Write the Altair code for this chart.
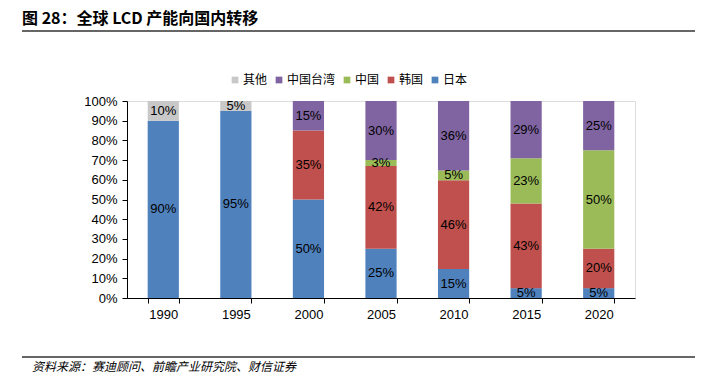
import altair as alt
import pandas as pd

years = ["1990", "1995", "2000", "2005", "2010", "2015", "2020"]
regions = ["日本", "韩国", "中国", "中国台湾", "其他"]
japan = [90, 95, 50, 25, 15, 5, 5]
korea = [0, 0, 35, 42, 46, 43, 20]
china = [0, 0, 0, 3, 5, 23, 50]
taiwan = [0, 0, 15, 30, 36, 29, 25]
other = [10, 5, 0, 0, 0, 0, 0]
colors = {"日本": "#4F81BD", "韩国": "#C0504D", "中国": "#9BBB59",
          "中国台湾": "#8064A2", "其他": "#C8C8C8"}
legend_order = ["其他", "中国台湾", "中国", "韩国", "日本"]
title_text = "图 28：全球 LCD 产能向国内转移"
source_text = "资料来源：赛迪顾问、前瞻产业研究院、财信证券"
y_ticks = [0, 0.1, 0.2, 0.3, 0.4, 0.5, 0.6, 0.7, 0.8, 0.9, 1.0]

series = [japan, korea, china, taiwan, other]
rows = []
for ri, (r, vals) in enumerate(zip(regions, series)):
    for y, v in zip(years, vals):
        if v > 0:
            rows.append({"year": y, "region": r, "value": v, "ord": ri,
                         "label": f"{v}%"})
df = pd.DataFrame(rows)

FONT = "Liberation Sans, Arial, Noto Sans CJK SC"

x_axis = alt.Axis(labelAngle=0, tickBand="extent", domainColor="#000",
                  tickColor="#000", labelColor="#000", labelFontSize=13,
                  labelFont=FONT, tickSize=5, labelPadding=5)
y_axis = alt.Axis(format=".0%", values=y_ticks, grid=False, domainColor="#000",
                  tickColor="#000", labelColor="#000", labelFontSize=13,
                  labelFont=FONT, tickSize=5, labelPadding=5, labelOverlap=False,
                  labelBound=False, labelFlush=False)
x_scale = alt.Scale(paddingInner=0.57, paddingOuter=0.285)
y_scale = alt.Scale(domain=[0, 1], nice=False)

base = alt.Chart(df)

bars = base.mark_bar().encode(
    x=alt.X("year:N", title=None, sort=years, scale=x_scale, axis=x_axis),
    y=alt.Y("value:Q", stack="normalize", title=None, scale=y_scale, axis=y_axis),
    color=alt.Color("region:N", sort=legend_order,
                    scale=alt.Scale(domain=legend_order,
                                    range=[colors[k] for k in legend_order]),
                    legend=alt.Legend(title=None, orient="none", direction="horizontal",
                                      legendX=102, legendY=-27, symbolType="square",
                                      symbolSize=45, symbolStrokeWidth=0,
                                      labelFontSize=12, labelFont=FONT,
                                      labelColor="#000", columnPadding=5,
                                      labelOffset=2)),
    order=alt.Order("ord:Q", sort="ascending"),
)

labels = base.transform_stack(
    stack="value", groupby=["year"], sort=[alt.SortField("ord", order="ascending")],
    as_=["y0", "y1"], offset="normalize"
).transform_calculate(
    mid="(datum.y0 + datum.y1) / 2"
).mark_text(fontSize=13, font=FONT, color="#000").encode(
    x=alt.X("year:N", title=None, sort=years, scale=x_scale, axis=x_axis),
    y=alt.Y("mid:Q", title=None, scale=y_scale, axis=y_axis),
    text="label:N",
)

title = alt.Chart(pd.DataFrame({"t": [title_text]})).mark_text(
    align="left", baseline="middle", fontSize=16, fontWeight="bold",
    font="Noto Sans CJK SC", color="#000"
).encode(x=alt.value(-105), y=alt.value(-82), text="t:N")

top_rule = alt.Chart(pd.DataFrame({"a": [0]})).mark_rule(
    color="#333", strokeWidth=1.5
).encode(x=alt.value(-105), x2=alt.value(570), y=alt.value(-70))

bottom_rule = alt.Chart(pd.DataFrame({"a": [0]})).mark_rule(
    color="#333", strokeWidth=1.5
).encode(x=alt.value(-105), x2=alt.value(570), y=alt.value(256))

source = alt.Chart(pd.DataFrame({"t": [source_text]})).mark_text(
    align="left", baseline="middle", fontSize=12, fontStyle="italic",
    font="Noto Sans CJK SC", color="#000"
).encode(x=alt.value(-95), y=alt.value(266), text="t:N")

chart = alt.layer(bars, labels, title, top_rule, bottom_rule, source).properties(
    width=508, height=197,
    autosize=alt.AutoSizeParams(type="none"),
    padding={"left": 119, "top": 93, "right": 60, "bottom": 74},
).configure_view(stroke=None).configure(background="white")

chart.save("out.html", embed_options={"renderer": "svg", "actions": False})
